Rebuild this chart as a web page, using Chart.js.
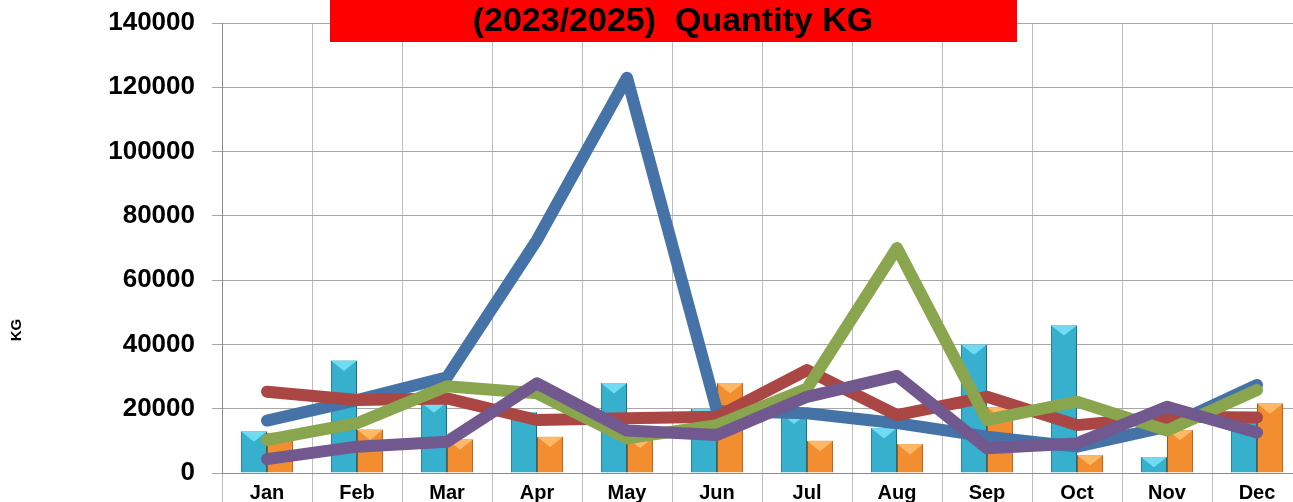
<!DOCTYPE html>
<html>
<head>
<meta charset="utf-8">
<title>Quantity KG</title>
<script src="https://cdn.jsdelivr.net/npm/chart.js@4.4.1/dist/chart.umd.min.js"></script>
<style>
    html, body { margin: 0; padding: 0; background: #fff; overflow: hidden; }
    #qty { display: block; }
</style>
</head>
<body>
<canvas id="qty" width="1305" height="502"></canvas>
<script>
// values
var months = ['Jan', 'Feb', 'Mar', 'Apr', 'May', 'Jun', 'Jul', 'Aug', 'Sep', 'Oct', 'Nov', 'Dec'];
var tealBars = [13000, 35000, 22000, 19000, 28000, 20000, 18500, 14000, 40000, 46000, 5000, 19000];
var orangeBars = [12500, 13500, 10500, 11300, 11000, 28000, 10000, 9000, 20500, 5600, 13400, 21700];
var blueLine = [16300, 22700, 29800, 72500, 123000, 19300, 18600, 15500, 11300, 8200, 14400, 27400];
var redLine = [25300, 22700, 23200, 16500, 17000, 17500, 32000, 18000, 23700, 14900, 17500, 17300];
var greenLine = [10300, 15500, 27000, 24800, 10800, 14900, 26300, 70000, 16500, 22200, 13200, 25800];
var purpleLine = [4300, 8200, 9700, 27900, 13200, 11800, 23700, 30200, 7700, 9200, 20600, 12600];
var yTicks = [0, 20000, 40000, 60000, 80000, 100000, 120000, 140000];
var titleText = '(2023/2025)  Quantity KG';
var axisText = 'KG';

var FONT = '"Liberation Sans", Arial, sans-serif';

// horizontal shading so the bars look a bit like the 3D excel ones
function barShade(stops) {
    return function (context) {
        var el = context.element;
        if (!el || el.width === undefined || isNaN(el.x)) return stops[1];
        var c = context.chart.ctx;
        var g = c.createLinearGradient(el.x - el.width / 2, 0, el.x + el.width / 2, 0);
        g.addColorStop(0, stops[0]);
        g.addColorStop(0.2, stops[1]);
        g.addColorStop(0.7, stops[2]);
        g.addColorStop(1, stops[3]);
        return g;
    };
}

function lineSet(data, color, order) {
    return {
        type: 'line',
        data: data,
        borderColor: color,
        backgroundColor: color,
        borderWidth: 12,
        borderCapStyle: 'round',
        borderJoinStyle: 'round',
        pointRadius: 0,
        pointHoverRadius: 0,
        tension: 0,
        fill: false,
        order: order
    };
}

// light triangle on top of each bar (bevel look)
var bevel = {
    id: 'bevel',
    afterDatasetDraw: function (chart, args) {
        var meta = args.meta;
        if (meta.type !== 'bar') return;
        var tip = meta.index === 0 ? 'rgba(120,225,245,0.9)' : 'rgba(255,190,110,0.9)';
        var c = chart.ctx;
        c.save();
        meta.data.forEach(function (bar) {
            var h = bar.base - bar.y;
            var d = Math.min(bar.width * 0.4, h);
            if (d <= 0) return;
            c.fillStyle = tip;
            c.beginPath();
            c.moveTo(bar.x - bar.width / 2, bar.y);
            c.lineTo(bar.x + bar.width / 2, bar.y);
            c.lineTo(bar.x, bar.y + d);
            c.closePath();
            c.fill();
        });
        c.restore();
    }
};

// red title box and the rotated KG label
var decor = {
    id: 'decor',
    afterDraw: function (chart) {
        var c = chart.ctx;
        c.save();
        c.fillStyle = '#ff0000';
        c.fillRect(330, 0, 687, 42);
        c.fillStyle = '#000';
        c.font = 'bold 34px ' + FONT;
        c.textAlign = 'center';
        c.textBaseline = 'alphabetic';
        c.fillText(titleText, 673, 31);

        c.translate(17, 330);
        c.rotate(-Math.PI / 2);
        c.font = 'bold 15px ' + FONT;
        c.textBaseline = 'middle';
        c.fillText(axisText, 0, 0);
        c.restore();
    }
};

var ctx = document.getElementById('qty').getContext('2d');
var qtyChart = new Chart(ctx, {
    type: 'bar',
    data: {
        labels: months,
        datasets: [{
            label: 'teal',
            data: tealBars,
            backgroundColor: barShade(['#1f7c95', '#36b0cc', '#2c9ab6', '#1a6478']),
            borderColor: '#1d6e84',
            borderWidth: 1,
            categoryPercentage: 0.58,
            barPercentage: 1,
            order: 10
        }, {
            label: 'orange',
            data: orangeBars,
            backgroundColor: barShade(['#c8681a', '#f28e30', '#e47f26', '#a65312']),
            borderColor: '#a65312',
            borderWidth: 1,
            categoryPercentage: 0.58,
            barPercentage: 1,
            order: 10
        },
            lineSet(blueLine, '#4572a7', 4),
            lineSet(redLine, '#aa4643', 3),
            lineSet(greenLine, '#89a54e', 2),
            lineSet(purpleLine, '#71588f', 1)
        ]
    },
    options: {
        responsive: false,
        animation: false,
        devicePixelRatio: 1,
        layout: {
            padding: { top: 23, right: 3, left: 0, bottom: 0 }
        },
        plugins: {
            legend: { display: false },
            tooltip: { enabled: false },
            title: { display: false }
        },
        scales: {
            x: {
                grid: {
                    color: '#bdbdbd',
                    offset: true,
                    tickLength: 30
                },
                border: { color: '#8c8c8c' },
                ticks: {
                    color: '#000',
                    padding: -22,
                    maxRotation: 0,
                    autoSkip: false,
                    font: { family: FONT, size: 20, weight: 'bold' }
                },
                afterFit: function (scale) {
                    scale.height = 29;
                    scale.paddingLeft = 0;
                    scale.paddingRight = 0;
                }
            },
            y: {
                min: 0,
                max: 140000,
                afterBuildTicks: function (scale) {
                    scale.ticks = yTicks.map(function (v) { return { value: v }; });
                },
                grid: {
                    color: '#a6a6a6',
                    tickLength: 10
                },
                border: { color: '#8c8c8c' },
                ticks: {
                    color: '#000',
                    padding: 17,
                    font: { family: FONT, size: 26, weight: 'bold' },
                    callback: function (v) { return String(v); }
                },
                // tick padding would otherwise push the plot down from the top
                afterFit: function (scale) {
                    scale.width = 222;
                    scale.paddingTop = 0;
                    scale.paddingBottom = 0;
                }
            }
        }
    },
    plugins: [bevel, decor]
});
</script>
</body>
</html>
